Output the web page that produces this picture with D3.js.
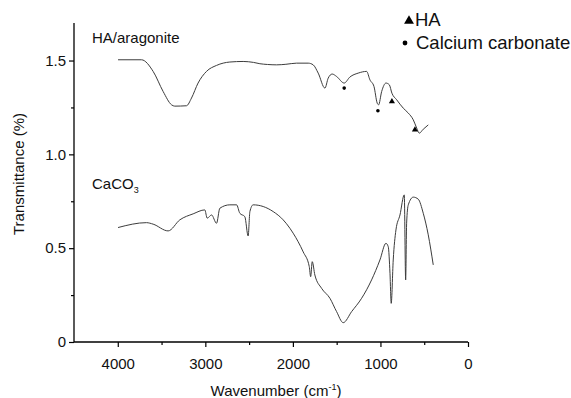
<!DOCTYPE html>
<html>
<head>
<meta charset="utf-8">
<script src="https://cdn.jsdelivr.net/npm/d3@7"></script>
<style>
  body { margin: 0; background: #fff; }
  svg { display: block; font-family: Arial, 'Liberation Sans', sans-serif; }
</style>
</head>
<body>
<svg id="chart"></svg>
<script>
// FTIR spectra (wavenumber cm-1, transmittance)
const haWave = [3997, 3729, 3596, 3482, 3386, 3349, 3215, 3158, 3083, 2987, 2872, 2720, 2568, 2450, 2377, 2290, 2186, 2080, 1958, 1825,
  1768, 1711, 1634, 1597, 1551, 1501, 1414, 1349, 1254, 1158, 1120, 1074, 1037, 1021, 986, 937, 899, 869, 815, 739, 682,
  625, 586, 557, 511, 454];
const haT = [1.504, 1.504, 1.442, 1.335, 1.264, 1.257, 1.259, 1.300, 1.380, 1.442, 1.474, 1.492, 1.495, 1.490, 1.483, 1.479, 1.477, 1.480, 1.486, 1.486,
  1.477, 1.433, 1.353, 1.406, 1.428, 1.415, 1.380, 1.412, 1.433, 1.442, 1.397, 1.362, 1.273, 1.264, 1.335, 1.380, 1.371, 1.326, 1.291, 1.246, 1.220,
  1.184, 1.140, 1.113, 1.134, 1.157];

const caWave = [3997, 3672, 3596, 3425, 3291, 3139, 3006, 2979, 2929, 2872, 2834, 2720, 2643, 2606, 2549, 2511, 2491, 2454, 2339, 2225,
  2111, 2034, 1997, 1882, 1813, 1797, 1779, 1749, 1672, 1577, 1501, 1425, 1329, 1215, 1101, 1006, 937, 911, 891, 877,
  854, 823, 777, 728, 712, 701, 682, 625, 568, 511, 454, 397];
const caT = [0.610, 0.636, 0.628, 0.592, 0.651, 0.683, 0.704, 0.660, 0.677, 0.633, 0.713, 0.731, 0.731, 0.686, 0.668, 0.565, 0.695, 0.731, 0.722, 0.695,
  0.651, 0.606, 0.580, 0.480, 0.402, 0.348, 0.428, 0.357, 0.286, 0.233, 0.162, 0.103, 0.162, 0.233, 0.331, 0.437, 0.526, 0.508, 0.366, 0.206,
  0.437, 0.597, 0.677, 0.784, 0.331, 0.633, 0.731, 0.772, 0.761, 0.686, 0.571, 0.411];

// peak markers on the HA/aragonite trace
const dotWave = [1414, 1029];
const dotT = [1.353, 1.232];
const triWave = [869, 606];
const triT = [1.282, 1.131];

const xMajor = [4000, 3000, 2000, 1000, 0];
const xMinor = [3500, 2500, 1500, 500];
const yMajor = [0, 0.5, 1.0, 1.5];
const yMinor = [0.25, 0.75, 1.25];

const width = 571, height = 398;
const margin = {top: 23, right: 103, bottom: 56, left: 74};

const svg = d3.select('#chart').attr('width', width).attr('height', height);
const g = svg.append('g').attr('transform', 'translate(' + margin.left + ',' + margin.top + ')');
const w = width - margin.left - margin.right;
const h = height - margin.top - margin.bottom;

const x = d3.scaleLinear().domain([4500, 0]).range([0, w]);
const y = d3.scaleLinear().domain([0, 1.7]).range([h, 0]);

// axes
const xAxis = g.append('g').attr('transform', 'translate(0,' + h + ')')
  .call(d3.axisBottom(x).tickValues(xMajor).tickSize(5).tickPadding(11).tickFormat(d3.format('d')));
g.append('g').attr('transform', 'translate(0,' + h + ')')
  .call(d3.axisBottom(x).tickValues(xMinor).tickSize(3).tickFormat(''))
  .select('.domain').remove();
const yAxis = g.append('g')
  .call(d3.axisLeft(y).tickValues(yMajor).tickSize(5).tickPadding(3)
    .tickFormat(d => d === 0 ? '0' : d3.format('.1f')(d)));
g.append('g')
  .call(d3.axisLeft(y).tickValues(yMinor).tickSize(3).tickFormat(''))
  .select('.domain').remove();

g.selectAll('.domain').attr('stroke', '#000').attr('stroke-width', 1.3);
g.selectAll('.tick line').attr('stroke', '#000').attr('stroke-width', 1.2);
g.selectAll('.tick text').attr('font-size', 15).attr('fill', '#111')
  .attr('font-family', "Arial, 'Liberation Sans', sans-serif");
// keep only the axis lines themselves, no outer ticks
xAxis.select('.domain').attr('d', 'M0,0H' + w);
yAxis.select('.domain').attr('d', 'M0,0V' + h);

// spectra
const line = d3.line()
  .x(d => x(d[0]))
  .y(d => y(d[1]))
  .curve(d3.curveMonotoneX);

const haData = haWave.map((v, i) => [v, haT[i]]);
const caData = caWave.map((v, i) => [v, caT[i]]);

[haData, caData].forEach(data => {
  g.append('path')
    .datum(data)
    .attr('d', line)
    .attr('fill', 'none')
    .attr('stroke', '#3c3c3c')
    .attr('stroke-width', 1);
});

// markers
g.selectAll('.dot')
  .data(dotWave.map((v, i) => [v, dotT[i]]))
  .enter().append('circle')
  .attr('cx', d => x(d[0]))
  .attr('cy', d => y(d[1]))
  .attr('r', 1.8)
  .attr('fill', '#000');

g.selectAll('.tri')
  .data(triWave.map((v, i) => [v, triT[i]]))
  .enter().append('path')
  .attr('transform', d => 'translate(' + x(d[0]) + ',' + y(d[1]) + ')')
  .attr('d', d3.symbol(d3.symbolTriangle, 16))
  .attr('fill', '#000');

// trace labels
g.append('text')
  .attr('x', 18).attr('y', 20)
  .attr('font-size', 15)
  .attr('fill', '#111')
  .text('HA/aragonite');

const caLabel = g.append('text')
  .attr('x', 18).attr('y', 166)
  .attr('font-size', 15)
  .attr('fill', '#111');
caLabel.append('tspan').text('CaCO');
caLabel.append('tspan').attr('font-size', 9).attr('dy', 4).text('3');

// legend
svg.append('path')
  .attr('transform', 'translate(409,21)')
  .attr('d', d3.symbol(d3.symbolTriangle, 42))
  .attr('fill', '#000');
svg.append('text')
  .attr('x', 415).attr('y', 26)
  .attr('font-size', 18.5)
  .attr('fill', '#111')
  .text('HA');
svg.append('circle')
  .attr('cx', 405).attr('cy', 43).attr('r', 2.4)
  .attr('fill', '#000');
svg.append('text')
  .attr('x', 416).attr('y', 49)
  .attr('font-size', 18.5)
  .attr('fill', '#111')
  .text('Calcium carbonate');

// axis titles
svg.append('text')
  .attr('transform', 'translate(24,174) rotate(-90)')
  .attr('text-anchor', 'middle')
  .attr('font-size', 15)
  .attr('fill', '#111')
  .text('Transmittance (%)');

const xTitle = svg.append('text')
  .attr('x', 276).attr('y', 396)
  .attr('text-anchor', 'middle')
  .attr('font-size', 15)
  .attr('fill', '#111');
xTitle.append('tspan').text('Wavenumber (cm');
xTitle.append('tspan').attr('font-size', 9).attr('dy', -6).text('-1');
xTitle.append('tspan').attr('dy', 6).text(')');
</script>
</body>
</html>
